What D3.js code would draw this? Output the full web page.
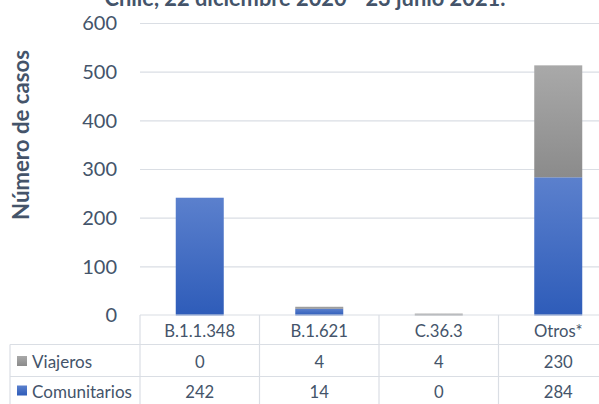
<!DOCTYPE html>
<html>
<head>
<meta charset="utf-8">
<script src="https://cdn.jsdelivr.net/npm/d3@7"></script>
<style>
  html, body { margin: 0; padding: 0; background: #fff; }
  svg { display: block; font-family: Lato, "Open Sans", sans-serif; }
</style>
</head>
<body>
<svg id="chart" width="599" height="404"></svg>
<script>
// data
const variantes = ["B.1.1.348", "B.1.621", "C.36.3", "Otros*"];
const comunitarios = [242, 14, 0, 284];
const viajeros = [0, 4, 4, 230];
const yTicks = [0, 100, 200, 300, 400, 500, 600];
const series = ["Comunitarios", "Viajeros"];

const textColor = "#44546a";
const gridColor = "#dadee4";

const plot = {left: 140, right: 618, top: 23.5, bottom: 315.5};
// table row borders
const rowLines = [315, 344.5, 376.5, 408.5];

const svg = d3.select("#chart");

const defs = svg.append("defs");
function grad(id, c1, c2) {
  const g = defs.append("linearGradient").attr("id", id)
    .attr("x1", 0).attr("y1", 0).attr("x2", 0).attr("y2", 1);
  g.append("stop").attr("offset", "0%").attr("stop-color", c1);
  g.append("stop").attr("offset", "100%").attr("stop-color", c2);
}
grad("gBlue", "#5b80cd", "#2e5cb9");
grad("gGray", "#a9a9a9", "#8b8b8b");
const fills = {Comunitarios: "url(#gBlue)", Viajeros: "url(#gGray)"};

// font size that makes a text span w pixels
function sizeFor(sel, size, w) {
  const l = sel.node().getComputedTextLength();
  return size * w / l;
}

const x = d3.scaleBand().domain(variantes)
  .range([plot.left, plot.right])
  .paddingInner(0).paddingOuter(0);
const barW = 48;

const y = d3.scaleLinear().domain([0, 600]).range([plot.bottom, plot.top]);

// gridlines
svg.append("g").selectAll("line")
  .data(yTicks.slice(1))
  .join("line")
  .attr("x1", plot.left).attr("x2", 599)
  .attr("y1", d => y(d)).attr("y2", d => y(d))
  .attr("stroke", gridColor).attr("stroke-width", 1.2);

// y axis labels
const yAxis = svg.append("g")
  .attr("transform", "translate(117,0)")
  .call(d3.axisLeft(y).tickValues(yTicks).tickSize(0).tickPadding(0));
yAxis.select(".domain").remove();
yAxis.selectAll("text")
  .attr("fill", textColor)
  .style("font-size", "20px")
  .style("font-family", "Lato, sans-serif");

// stacked bars
const tabla = variantes.map((v, i) => ({variante: v, Comunitarios: comunitarios[i], Viajeros: viajeros[i]}));
const stack = d3.stack().keys(series)(tabla);

svg.append("g").selectAll("g")
  .data(stack)
  .join("g")
  .attr("fill", d => fills[d.key])
  .selectAll("rect")
  .data(d => d)
  .join("rect")
  .attr("x", d => x(d.data.variante) + x.bandwidth() / 2 - barW / 2)
  .attr("width", barW)
  .attr("y", d => y(d[1]))
  .attr("height", d => y(d[0]) - y(d[1]));

// y axis title
const yTitle = svg.append("text")
  .attr("transform", "translate(29,135) rotate(-90)")
  .attr("text-anchor", "middle")
  .attr("fill", textColor)
  .style("font-size", "20px")
  .style("font-weight", "bold")
  .text("Número de casos");
yTitle.style("font-size", sizeFor(yTitle, 20, 170) + "px");

// title, cut at top
const title = svg.append("text")
  .attr("x", 305).attr("y", 6)
  .attr("text-anchor", "middle")
  .attr("fill", textColor)
  .style("font-size", "19px")
  .style("font-weight", "bold")
  .text("Chile, 22 diciembre 2020 - 23 junio 2021.");
title.style("font-size", sizeFor(title, 19, 401) + "px");

// data table
const tbl = svg.append("g");
const rows = [
  {name: "Viajeros", values: viajeros, fill: "url(#gGray)"},
  {name: "Comunitarios", values: comunitarios, fill: "url(#gBlue)"}
];

// horizontal lines
rowLines.forEach((ly, r) => {
  tbl.append("line").attr("x1", r === 0 ? plot.left : 10).attr("x2", 599)
    .attr("y1", ly).attr("y2", ly)
    .attr("stroke", gridColor).attr("stroke-width", 1.2);
});
// vertical lines
variantes.forEach(v => {
  tbl.append("line").attr("x1", x(v)).attr("x2", x(v))
    .attr("y1", rowLines[0]).attr("y2", 404)
    .attr("stroke", gridColor).attr("stroke-width", 1.2);
});
tbl.append("line").attr("x1", 10).attr("x2", 10)
  .attr("y1", rowLines[1]).attr("y2", 404)
  .attr("stroke", gridColor).attr("stroke-width", 1.2);

// header
const heads = tbl.selectAll("text.head")
  .data(variantes)
  .join("text")
  .attr("class", "head")
  .attr("x", d => x(d) + x.bandwidth() / 2)
  .attr("y", 336.5)
  .attr("text-anchor", "middle")
  .attr("fill", textColor)
  .style("font-size", "16px")
  .text(d => d);
// one size for the whole table, from the width of "B.1.1.348"
const cellSize = sizeFor(d3.select(heads.nodes()[0]), 16, 71);
heads.style("font-size", cellSize + "px");

const baselines = [368, 397.5];
const labs = rows.map((row, r) => {
  const by = baselines[r];
  tbl.append("rect")
    .attr("x", 17).attr("y", by - 12).attr("width", 10).attr("height", 10)
    .attr("fill", row.fill);
  tbl.selectAll("text.v" + r)
    .data(row.values)
    .join("text")
    .attr("class", "v" + r)
    .attr("x", (d, i) => x(variantes[i]) + x.bandwidth() / 2)
    .attr("y", by)
    .attr("text-anchor", "middle")
    .attr("fill", textColor)
    .style("font-size", cellSize + "px")
    .text(d => d);
  return tbl.append("text")
    .attr("x", 32).attr("y", by)
    .attr("fill", textColor)
    .style("font-size", "16px")
    .text(row.name);
});
const labSize = sizeFor(labs[1], 16, 100);
labs.forEach(l => l.style("font-size", labSize + "px"));
</script>
</body>
</html>
